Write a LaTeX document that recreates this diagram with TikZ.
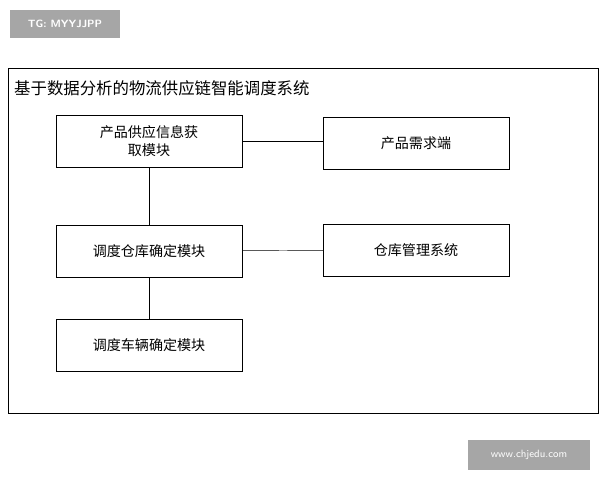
\documentclass[tikz,border=0pt]{standalone}
\usepackage{fontspec}
\newfontfamily\cjk{Noto Sans CJK SC}
\begin{document}
\begin{tikzpicture}[x=0.03cm,y=-0.03cm,
  bx/.style={draw,thin,minimum width=186*0.03cm,minimum height=52*0.03cm,inner sep=0pt,font=\cjk\fontsize{12}{15}\selectfont,align=center}]
\useasboundingbox (0,0) rectangle (600,480);
\fill[white] (0,0) rectangle (600,480);
\fill[gray!70] (10,10) rectangle (120,38);
\node[white,font=\sffamily\bfseries\fontsize{9}{10}\selectfont] (wm1) at (65,24) {TG: MYYJJPP};
\fill[gray!70] (468,440) rectangle (590,470);
\node[white,font=\sffamily\fontsize{9}{10}\selectfont] (wm2) at (529,455) {www.chjedu.com};
\draw[thin] (8,68) rectangle (598,413);
\node[anchor=west,font=\cjk\fontsize{14}{17}\selectfont,inner sep=0pt] (title) at (14,88) {基于数据分析的物流供应链智能调度系统};
\node[bx] (a) at (149,141) {产品供应信息获\\取模块};
\node[bx] (b) at (416,143) {产品需求端};
\node[bx] (c) at (149,251) {调度仓库确定模块};
\node[bx] (d) at (416,250) {仓库管理系统};
\node[bx] (e) at (149,345) {调度车辆确定模块};
\draw (a) -- (a -| b.west);
\draw (c) -- (d);
\draw (a) -- (c);
\draw (c) -- (e);
\end{tikzpicture}
\end{document}
